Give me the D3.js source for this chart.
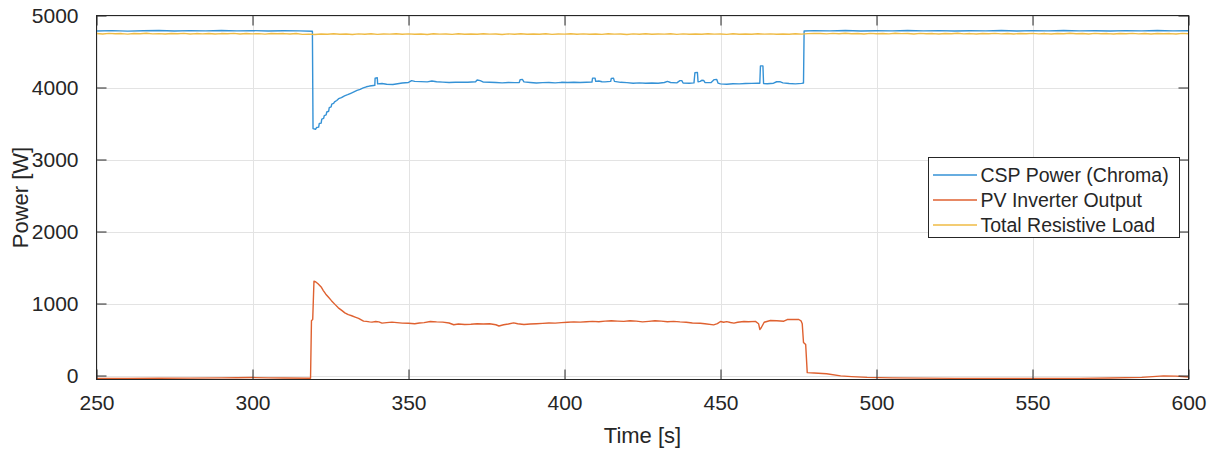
<!DOCTYPE html>
<meta charset="utf-8">
<head>
    <title>CSP / PV power</title>
</head>
<style>
body {
    margin: 0;
    background: #fff;
}
svg text {
    font-family: 'Liberation Sans', Arial, Helvetica, sans-serif;
    fill: #262626;
}
.grid line {
    stroke: #e3e3e3;
    stroke-width: 1;
}
.series {
    fill: none;
    stroke-width: 1.4;
    stroke-linejoin: round;
}
</style>
<body>
<svg width="1215" height="452"></svg>
<script src="https://d3js.org/d3.v7.min.js"></script>
<script>

// CSP power (Chroma) [s], [W]
const cspT = [250, 255, 260, 265, 270, 275, 280, 285, 290, 295, 300, 305, 310, 315, 319.2,
    319.4, 320.2, 320.6, 321.2, 321.4, 322, 322.2, 322.8, 323, 323.6, 323.8, 324.4, 324.6, 325.2, 325.4, 326, 326.3, 327, 327.6,
    328.5, 329.5, 330.5, 331.5, 332.5, 333.5, 334.5, 335.5, 336.5, 337.5, 338.8, 339.2, 339.3, 340, 340.1, 341.5, 343, 345,
    347, 348, 350, 351, 352, 354, 356, 357.5, 359, 361, 363, 365, 367, 369, 371.5, 372, 373, 374, 376, 378, 380, 382, 384,
    385.5, 385.8, 386.5, 387, 389, 391, 393, 395, 397, 399, 401, 403, 405, 407, 408.8, 409, 409.8, 410, 411, 412, 413,
    414.8, 415, 415.7, 416, 418, 420, 422, 424, 426, 428, 430, 432, 433, 434, 436, 437, 437.6, 438, 440, 441.5, 441.8,
    442.6, 442.8, 443.5, 444, 444.6, 445, 447, 448, 448.8, 449.2, 450, 452, 454, 456, 458, 460, 462, 462.6, 462.8, 463.6,
    463.8, 465, 467, 468, 469, 470, 472, 474, 476, 476.6, 476.8, 480, 485, 490, 495, 500, 505, 510, 515, 520, 525, 530,
    535, 540, 545, 550, 555, 560, 565, 570, 575, 580, 585, 590, 595, 600];
const cspV = [4785, 4790, 4783, 4788, 4792, 4785, 4790, 4786, 4791, 4787, 4790, 4785, 4789, 4786, 4782,
    3430, 3420, 3445, 3450, 3500, 3505, 3560, 3570, 3610, 3620, 3660, 3670, 3720, 3730, 3770, 3780, 3800, 3820, 3845,
    3860, 3885, 3900, 3920, 3940, 3960, 3975, 3995, 4010, 4020, 4028, 4030, 4130, 4135, 4050, 4055, 4045, 4042,
    4055, 4062, 4070, 4095, 4085, 4082, 4078, 4090, 4080, 4075, 4070, 4072, 4075, 4074, 4080, 4105, 4095, 4075, 4072, 4070, 4065, 4070, 4068,
    4070, 4110, 4112, 4078, 4070, 4062, 4068, 4070, 4065, 4072, 4070, 4072, 4070, 4072, 4075, 4130, 4130, 4085, 4090, 4080, 4078,
    4085, 4125, 4130, 4085, 4072, 4068, 4060, 4065, 4060, 4062, 4060, 4070, 4085, 4070, 4065, 4095, 4095, 4062, 4060, 4065, 4205,
    4210, 4080, 4085, 4100, 4098, 4070, 4068, 4110, 4112, 4062, 4050, 4045, 4052, 4050, 4055, 4058, 4060, 4060, 4300, 4300,
    4055, 4052, 4060, 4080, 4082, 4065, 4055, 4050, 4058, 4062, 4785, 4790, 4786, 4791, 4784, 4789, 4786, 4792, 4787, 4790, 4785, 4789,
    4786, 4791, 4785, 4790, 4787, 4792, 4786, 4789, 4785, 4790, 4787, 4791, 4786, 4789];

// PV inverter output [s], [W]
const pvT = [250, 260, 270, 280, 290, 295, 300, 305, 310, 318.6, 318.9, 319.3, 319.7, 320.3, 321, 322, 322.7, 323.5, 324.3,
    325.3, 326.5, 327.5, 328.6, 329.6, 330.7, 331.8, 332.9, 334, 335, 335.6, 336.5, 337.5, 338.3, 339.5, 340.5, 341.5, 343,
    344.7, 346.3, 348, 350, 352, 353.5, 355, 357, 359, 361, 363, 364.5, 366, 368, 370, 372, 374, 376, 378, 379, 380.5, 382,
    383.7, 385, 387, 389, 391, 393, 395, 397, 399, 401, 403, 405, 407, 409, 411, 413, 415, 417, 419, 421, 423, 425, 427,
    429, 431, 433, 435, 437, 439, 441, 443.5, 445, 447.8, 449, 450, 451, 452, 453.2, 454.3, 455.5, 457.5, 459, 461.2, 462.2,
    462.6, 463, 464, 466, 468, 470.3, 471.4, 473, 475.1, 475.8, 476.2, 476.6, 477.3, 477.8, 480, 484, 488.5, 492, 497, 505,
    515, 525, 540, 555, 565, 575, 585, 592, 596, 600];
const pvV = [-40, -40, -38, -36, -33, -30, -28, -32, -35, -38, 760, 780, 1310, 1300, 1275, 1230, 1180, 1130, 1090,
    1040, 985, 940, 905, 870, 845, 830, 812, 795, 770, 755, 752, 745, 742, 750, 745, 728, 735,
    742, 735, 728, 726, 720, 730, 735, 750, 745, 742, 730, 705, 715, 708, 712, 720, 716, 720, 705, 688, 705, 715,
    732, 720, 708, 715, 720, 725, 730, 728, 735, 740, 745, 742, 748, 752, 748, 755, 760, 756, 752, 760, 755, 745, 752,
    760, 755, 748, 752, 745, 740, 730, 726, 720, 704, 720, 750, 740, 748, 736, 728, 740, 750, 748, 752, 720,
    640, 660, 740, 764, 760, 754, 778, 780, 778, 760, 718, 460, 430, 40, 35, 25, -5, -15, -25, -32,
    -36, -40, -42, -42, -40, -35, -25, -5, -8, -20];

// Total resistive load, one reading every 2 s from 250 s to 600 s [W]
const loadT = d3.range(250, 601, 2);
const loadV = [4750, 4744, 4752, 4746, 4749, 4742, 4751, 4747, 4753, 4745,
    4748, 4743, 4750, 4746, 4752, 4744, 4749, 4745, 4751, 4743,
    4749, 4746, 4752, 4744, 4750, 4745, 4748, 4742, 4751, 4746,
    4749, 4744, 4750, 4738, 4742, 4736, 4744, 4739, 4746, 4740,
    4743, 4737, 4745, 4740, 4746, 4738, 4744, 4741, 4747, 4739,
    4745, 4740, 4743, 4737, 4746, 4741, 4744, 4738, 4747, 4740,
    4744, 4739, 4746, 4741, 4743, 4737, 4745, 4740, 4747, 4739,
    4744, 4740, 4746, 4738, 4743, 4741, 4747, 4739, 4745, 4740,
    4743, 4738, 4746, 4741, 4744, 4737, 4745, 4740, 4747, 4739,
    4744, 4741, 4746, 4738, 4745, 4740, 4743, 4739, 4746, 4741,
    4744, 4738, 4746, 4740, 4743, 4739, 4747, 4741, 4745, 4739,
    4744, 4740, 4746, 4741, 4748, 4752, 4749, 4745, 4752, 4747,
    4753, 4746, 4750, 4744, 4752, 4747, 4751, 4745, 4753, 4748,
    4750, 4744, 4752, 4746, 4749, 4743, 4751, 4747, 4753, 4745,
    4749, 4744, 4751, 4746, 4752, 4745, 4750, 4743, 4751, 4747,
    4752, 4745, 4749, 4744, 4751, 4746, 4753, 4747, 4750, 4744,
    4752, 4746, 4749, 4743, 4751, 4747, 4752, 4745, 4750, 4744,
    4751, 4746, 4749, 4744, 4752, 4747];

const xTicks = [250, 300, 350, 400, 450, 500, 550, 600];
const yTicks = [0, 1000, 2000, 3000, 4000, 5000];
const seriesNames = ['CSP Power (Chroma)', 'PV Inverter Output', 'Total Resistive Load'];
const seriesColors = ['#3592d6', '#df6130', '#efbb45'];

const svg = d3.select('svg');
const margin = {left: 96.5, top: 15.5, right: 1188.5, bottom: 379.5};

const x = d3.scaleLinear().domain([250, 600]).range([margin.left, margin.right]);
const y = d3.scaleLinear().domain([-55, 5000]).range([margin.bottom, margin.top]);

// grid
const grid = svg.append('g').attr('class', 'grid');
grid.selectAll('.gx')
    .data(xTicks)
    .enter()
    .append('line')
    .attr('x1', d => Math.round(x(d)) + 0.5)
    .attr('x2', d => Math.round(x(d)) + 0.5)
    .attr('y1', margin.top)
    .attr('y2', margin.bottom);
grid.selectAll('.gy')
    .data(yTicks)
    .enter()
    .append('line')
    .attr('x1', margin.left)
    .attr('x2', margin.right)
    .attr('y1', d => Math.round(y(d)) + 0.5)
    .attr('y2', d => Math.round(y(d)) + 0.5);

// series
const line = d3.line()
    .x(d => x(d[0]))
    .y(d => y(d[1]));

const series = [
    d3.zip(cspT, cspV),
    d3.zip(pvT, pvV),
    d3.zip(loadT, loadV)
];

svg.append('g')
    .selectAll('path')
    .data(series)
    .enter()
    .append('path')
    .attr('class', 'series')
    .attr('stroke', (d, i) => seriesColors[i])
    .attr('d', line);

// axes, ticks inward on all four sides
const tickLen = 10;
const axisStyle = g => {
    g.select('.domain').remove();
    g.selectAll('.tick line').attr('stroke', '#262626');
    g.selectAll('.tick text')
        .style('font-size', '21px')
        .attr('fill', '#262626');
};

svg.append('g')
    .attr('transform', `translate(0,${margin.bottom})`)
    .call(d3.axisBottom(x).tickValues(xTicks).tickSize(-tickLen).tickPadding(16).tickFormat(d3.format('d')))
    .call(axisStyle);
svg.append('g')
    .attr('transform', `translate(0,${margin.top})`)
    .call(d3.axisTop(x).tickValues(xTicks).tickSize(-tickLen).tickFormat(''))
    .call(axisStyle);
svg.append('g')
    .attr('transform', `translate(${margin.left},0)`)
    .call(d3.axisLeft(y).tickValues(yTicks).tickSize(-tickLen).tickPadding(18).tickFormat(d3.format('d')))
    .call(axisStyle);
svg.append('g')
    .attr('transform', `translate(${margin.right},0)`)
    .call(d3.axisRight(y).tickValues(yTicks).tickSize(-tickLen).tickFormat(''))
    .call(axisStyle);

svg.append('rect')
    .attr('x', margin.left)
    .attr('y', margin.top)
    .attr('width', margin.right - margin.left)
    .attr('height', margin.bottom - margin.top)
    .attr('fill', 'none')
    .attr('stroke', '#262626')
    .attr('stroke-width', 1);

// axis labels
svg.append('text')
    .attr('x', (margin.left + margin.right) / 2)
    .attr('y', 443)
    .attr('text-anchor', 'middle')
    .style('font-size', '22px')
    .text('Time [s]');
svg.append('text')
    .attr('transform', `translate(28,${(margin.top + margin.bottom) / 2}) rotate(-90)`)
    .attr('text-anchor', 'middle')
    .style('font-size', '22px')
    .text('Power [W]');

// legend
const legend = svg.append('g').attr('transform', 'translate(928.5,157.5)');
legend.append('rect')
    .attr('width', 251)
    .attr('height', 80)
    .attr('fill', '#fff')
    .attr('stroke', '#262626')
    .attr('stroke-width', 1);

const item = legend.selectAll('.item')
    .data(seriesNames)
    .enter()
    .append('g')
    .attr('transform', (d, i) => `translate(0,${17.5 + i * 25})`);
item.append('line')
    .attr('x1', 4.5)
    .attr('x2', 48.5)
    .attr('stroke', (d, i) => seriesColors[i])
    .attr('stroke-width', 1.4);
item.append('text')
    .attr('x', 52)
    .attr('dy', '0.35em')
    .style('font-size', '19.5px')
    .text(d => d);

</script>
</body>
